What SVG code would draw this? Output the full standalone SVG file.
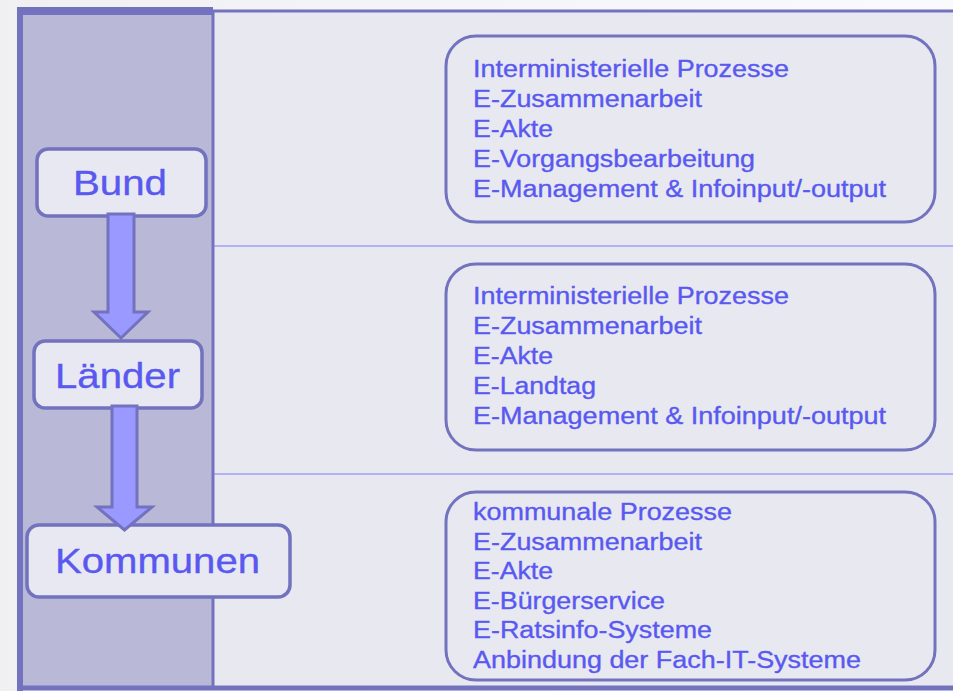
<svg xmlns="http://www.w3.org/2000/svg" width="953" height="691" viewBox="0 0 953 691">
<defs>
<style>
.lbl{font-family:"Liberation Sans",Arial,sans-serif;fill:#5959f0;stroke:#5959f0;stroke-width:0.35;}
.big{font-size:35px;text-anchor:start;}
.item{font-size:23.5px;}
.lbox{fill:#e8e8f2;stroke:#7272bf;stroke-width:3.5;}
.rbox{fill:#e8e8f0;stroke:#7272bf;stroke-width:3;}
.arrow{fill:#9999ff;stroke:#7272bf;stroke-width:3;stroke-linejoin:miter;}
.frame{stroke:#7272bf;fill:none;}
.sep{stroke:#a0a0f8;stroke-width:1.5;}
</style>
<linearGradient id="bg" x1="0" y1="0" x2="1" y2="0">
<stop offset="0" stop-color="#f0f0f2"/>
<stop offset="1" stop-color="#fafafc"/>
</linearGradient>
</defs>
<rect x="0" y="0" width="953" height="691" fill="url(#bg)"/>
<g id="frame">
<rect x="213" y="11" width="745" height="677" fill="#e8e8f0"/>
<rect x="20" y="11" width="193" height="677" fill="#b9b9d7"/>
<line class="sep" x1="213" y1="246" x2="953" y2="246"/>
<line class="sep" x1="213" y1="474" x2="953" y2="474"/>
<line class="frame" x1="213" y1="11" x2="953" y2="11" stroke-width="3"/>
<line class="frame" x1="213" y1="11" x2="213" y2="688" stroke-width="3"/>
<line class="frame" x1="17" y1="11" x2="213" y2="11" stroke-width="8"/>
<line class="frame" x1="20" y1="7" x2="20" y2="691" stroke-width="6"/>
<line class="frame" x1="17" y1="688" x2="953" y2="688" stroke-width="5"/>
</g>
<g id="bund">
<rect class="lbox" x="37" y="149" width="169" height="67" rx="11"/>
<text class="lbl big" x="73" y="195" textLength="94" lengthAdjust="spacingAndGlyphs">Bund</text>
</g>
<g id="laender">
<rect class="lbox" x="34" y="341" width="168" height="67" rx="11"/>
<text class="lbl big" x="55" y="388" textLength="125" lengthAdjust="spacingAndGlyphs">Länder</text>
</g>
<g id="kommunen">
<rect class="lbox" x="27" y="525" width="263" height="72" rx="12"/>
<text class="lbl big" x="55" y="573" textLength="205" lengthAdjust="spacingAndGlyphs">Kommunen</text>
</g>
<g id="connectors">
<path class="arrow" d="M108,214 L134,214 L134,312 L148,312 L121,338 L94,312 L108,312 Z"/>
<path class="arrow" d="M112,406 L137,406 L137,507 L152,507 L124.5,530 L97,507 L112,507 Z"/>
</g>
<g id="box-bund">
<rect class="rbox" x="446" y="36" width="489" height="186" rx="30"/>
<text class="lbl item" x="473" y="77" textLength="316" lengthAdjust="spacingAndGlyphs">Interministerielle Prozesse</text>
<text class="lbl item" x="473" y="107" textLength="229" lengthAdjust="spacingAndGlyphs">E-Zusammenarbeit</text>
<text class="lbl item" x="473" y="137" textLength="80" lengthAdjust="spacingAndGlyphs">E-Akte</text>
<text class="lbl item" x="473" y="167" textLength="282" lengthAdjust="spacingAndGlyphs">E-Vorgangsbearbeitung</text>
<text class="lbl item" x="473" y="197" textLength="413" lengthAdjust="spacingAndGlyphs">E-Management &amp; Infoinput/-output</text>
</g>
<g id="box-laender">
<rect class="rbox" x="446" y="264" width="489" height="186" rx="30"/>
<text class="lbl item" x="473" y="304" textLength="316" lengthAdjust="spacingAndGlyphs">Interministerielle Prozesse</text>
<text class="lbl item" x="473" y="334" textLength="229" lengthAdjust="spacingAndGlyphs">E-Zusammenarbeit</text>
<text class="lbl item" x="473" y="364" textLength="80" lengthAdjust="spacingAndGlyphs">E-Akte</text>
<text class="lbl item" x="473" y="394" textLength="123" lengthAdjust="spacingAndGlyphs">E-Landtag</text>
<text class="lbl item" x="473" y="424" textLength="413" lengthAdjust="spacingAndGlyphs">E-Management &amp; Infoinput/-output</text>
</g>
<g id="box-kommunen">
<rect class="rbox" x="446" y="492" width="489" height="188" rx="30"/>
<text class="lbl item" x="473" y="520" textLength="259" lengthAdjust="spacingAndGlyphs">kommunale Prozesse</text>
<text class="lbl item" x="473" y="549.5" textLength="229" lengthAdjust="spacingAndGlyphs">E-Zusammenarbeit</text>
<text class="lbl item" x="473" y="579" textLength="80" lengthAdjust="spacingAndGlyphs">E-Akte</text>
<text class="lbl item" x="473" y="608.5" textLength="192" lengthAdjust="spacingAndGlyphs">E-Bürgerservice</text>
<text class="lbl item" x="473" y="638" textLength="239" lengthAdjust="spacingAndGlyphs">E-Ratsinfo-Systeme</text>
<text class="lbl item" x="473" y="667.5" textLength="388" lengthAdjust="spacingAndGlyphs">Anbindung der Fach-IT-Systeme</text>
</g>
</svg>
